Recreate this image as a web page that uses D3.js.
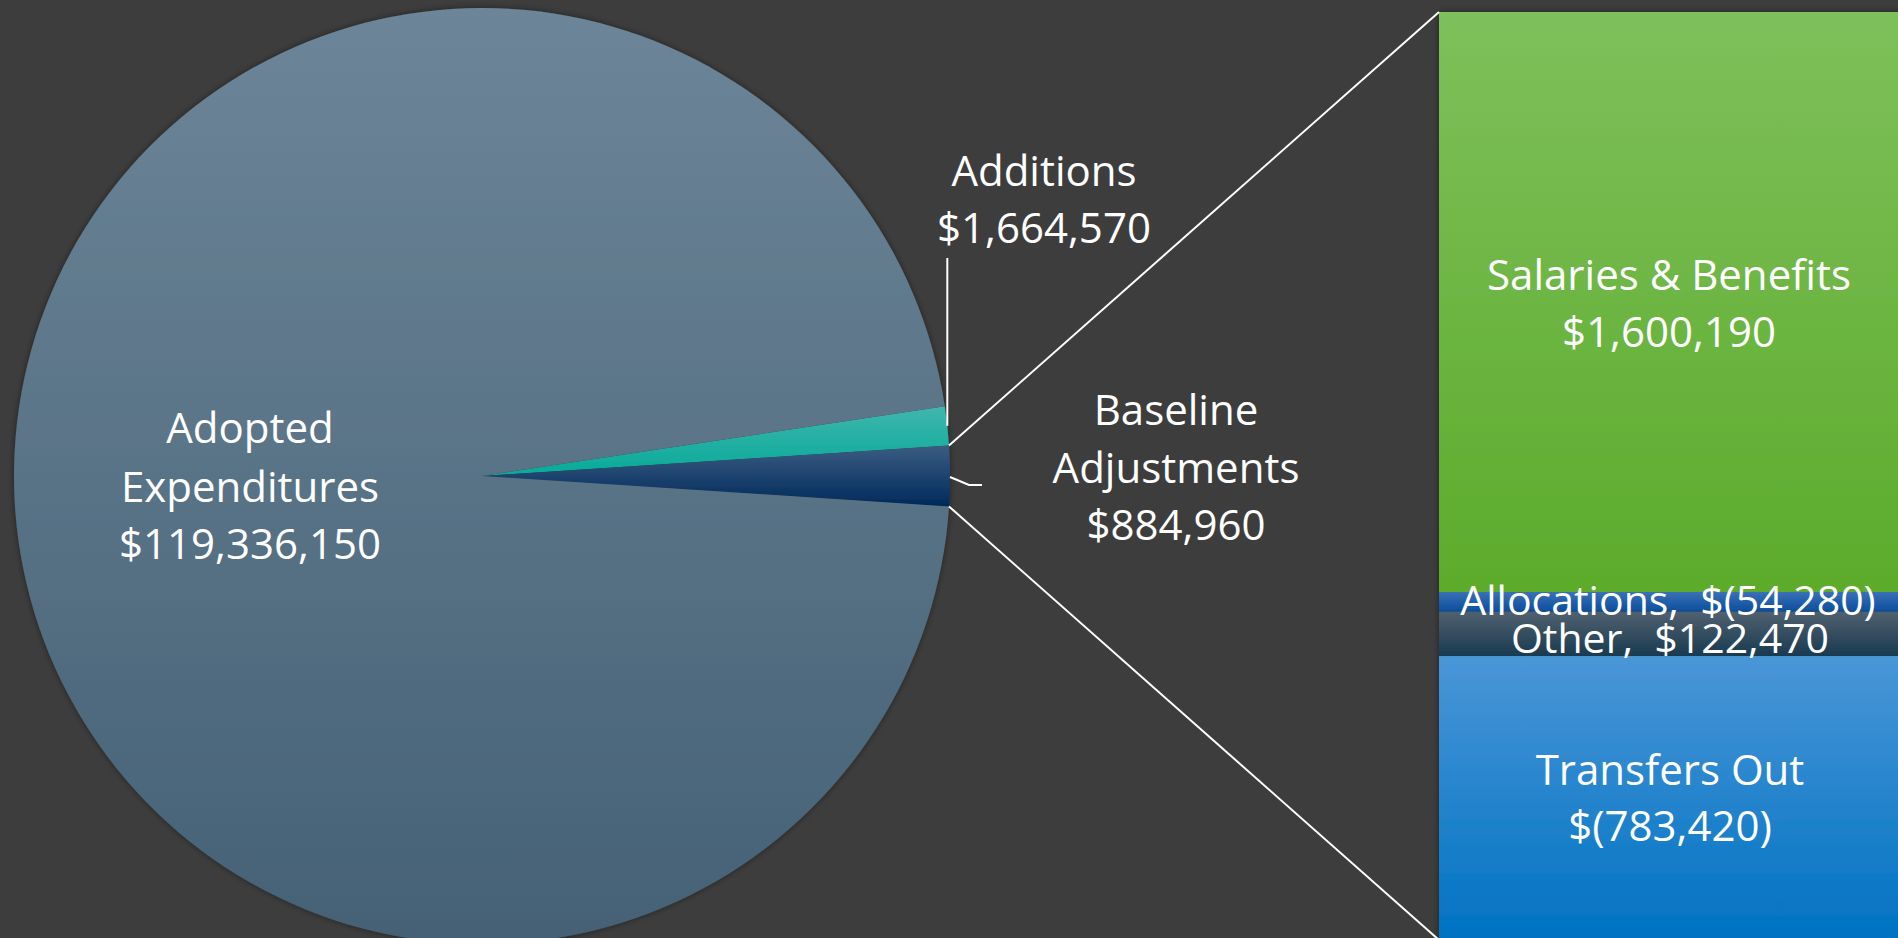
<!DOCTYPE html>
<meta charset="utf-8">
<style>
body { margin: 0; background: #3d3d3d; }
svg { display: block; }
.lbl { fill: #fff; font-family: "Open Sans", sans-serif; font-size: 42px; text-anchor: middle; white-space: pre; }
.lead { stroke: #fff; stroke-width: 2px; fill: none; }
</style>
<body>
<svg width="1898" height="938"></svg>
<script src="https://d3js.org/d3.v7.min.js"></script>
<script>

// main pie
var pieNames = ["Additions", "Baseline Adjustments", "Adopted Expenditures"];
var pieValues = [1664570, 884960, 119336150];

// breakdown of baseline adjustments (stacked bar on the right)
var barNames = ["Salaries & Benefits", "Allocations", "Other", "Transfers Out"];
var barValues = [1600190, -54280, 122470, -783420];

var svg = d3.select("svg"),
    width = +svg.attr("width"),
    height = +svg.attr("height");

var fmt = d3.format("$,");
function money(v) { return v < 0 ? "$(" + d3.format(",")(-v) + ")" : fmt(v); }

var defs = svg.append("defs");
function grad(id, c1, c2) {
  var g = defs.append("linearGradient").attr("id", id)
      .attr("x1", 0).attr("y1", 0).attr("x2", 0).attr("y2", 1);
  g.append("stop").attr("offset", "0%").attr("stop-color", c1);
  g.append("stop").attr("offset", "100%").attr("stop-color", c2);
}
grad("gAdd", "#40b6ae", "#06aa98");
grad("gBase", "#3b5c82", "#002a5b");
grad("gAdopt", "#6d8598", "#456175");
grad("gSal", "#7ec05b", "#5cab2b");
grad("gAlloc", "#3a70b6", "#0a4e9d");
grad("gOther", "#506170", "#193a50");
grad("gTrans", "#4a96d7", "#0072c2");

var f = defs.append("filter").attr("id", "shadow")
    .attr("x", "-5%").attr("y", "-5%").attr("width", "110%").attr("height", "110%");
f.append("feDropShadow").attr("dx", 0).attr("dy", 0).attr("stdDeviation", 3)
    .attr("flood-color", "#000").attr("flood-opacity", 0.45);

var pieFills = ["url(#gAdd)", "url(#gBase)", "url(#gAdopt)"];
var barFills = ["url(#gSal)", "url(#gAlloc)", "url(#gOther)", "url(#gTrans)"];

// the split slice is drawn with the absolute size of its parts, as Excel does
var absSum = d3.sum(barValues, function(v) { return Math.abs(v); });
var pieSizes = [pieValues[0], absSum, pieValues[2]];
var total = d3.sum(pieSizes);

var cx = 482, cy = 476, r = 468;
var start = Math.PI / 2 - (pieSizes[0] + pieSizes[1] / 2) / total * 2 * Math.PI;

var pie = d3.pie().sort(null).value(function(d) { return d; })
    .startAngle(start).endAngle(start + 2 * Math.PI);
var arcs = pie(pieSizes);
var arc = d3.arc().innerRadius(0).outerRadius(r);

var g = svg.append("g").attr("transform", "translate(" + cx + "," + cy + ")");
g.append("g").attr("filter", "url(#shadow)")
  .selectAll("path")
  .data(arcs)
  .enter().append("path")
    .attr("d", arc)
    .attr("fill", function(d, i) { return pieFills[i]; });

function onEdge(a) { return [cx + r * Math.sin(a), cy - r * Math.cos(a)]; }

// stacked bar
var bx = 1439, bw = 470;
var y = d3.scaleLinear().domain([0, absSum]).range([12, 940]);
var cum = 0;
var bars = barValues.map(function(v, i) {
  var o = { name: barNames[i], value: v, y0: cum, y1: cum + Math.abs(v), fill: barFills[i] };
  cum += Math.abs(v);
  return o;
});

svg.append("g").attr("filter", "url(#shadow)")
  .selectAll("rect")
  .data(bars)
  .enter().append("rect")
    .attr("x", bx)
    .attr("y", function(d) { return y(d.y0); })
    .attr("width", bw)
    .attr("height", function(d) { return y(d.y1) - y(d.y0); })
    .attr("fill", function(d) { return d.fill; });

// connector lines pie -> bar
var pTop = onEdge(arcs[1].startAngle), pBot = onEdge(arcs[1].endAngle);
svg.append("line").attr("class", "lead")
    .attr("x1", pTop[0]).attr("y1", pTop[1]).attr("x2", bx).attr("y2", y(0));
svg.append("line").attr("class", "lead")
    .attr("x1", pBot[0]).attr("y1", pBot[1]).attr("x2", bx).attr("y2", y(absSum));

// leader lines
var pAdd = onEdge((arcs[0].startAngle + arcs[0].endAngle) / 2);
svg.append("line").attr("class", "lead")
    .attr("x1", pAdd[0]).attr("y1", pAdd[1]).attr("x2", pAdd[0]).attr("y2", 258);
var pBase = onEdge((arcs[1].startAngle + arcs[1].endAngle) / 2);
svg.append("polyline").attr("class", "lead")
    .attr("points", [[pBase[0], pBase[1] + 1], [pBase[0] + 19, pBase[1] + 9], [pBase[0] + 32, pBase[1] + 9]].join(" "));

function label(x, ys, lines, size) {
  var t = svg.append("text").attr("class", "lbl");
  if (size) t.style("font-size", size + "px");
  lines.forEach(function(s, i) {
    t.append("tspan").attr("x", x).attr("y", ys[i]).text(s);
  });
}

label(250, [443, 502, 559], ["Adopted", "Expenditures", money(pieValues[2])]);
label(1044, [186, 243], [pieNames[0], money(pieValues[0])]);
label(1176, [425, 483, 540], ["Baseline", "Adjustments", money(pieValues[1])]);

label(1669, [290, 347], [barNames[0], money(barValues[0])]);
label(1668, [615], [barNames[1] + ",  " + money(barValues[1])], 41);
label(1670, [653], [barNames[2] + ",  " + money(barValues[2])], 41);
label(1670, [785, 841], [barNames[3], money(barValues[3])]);

</script>
</body>
